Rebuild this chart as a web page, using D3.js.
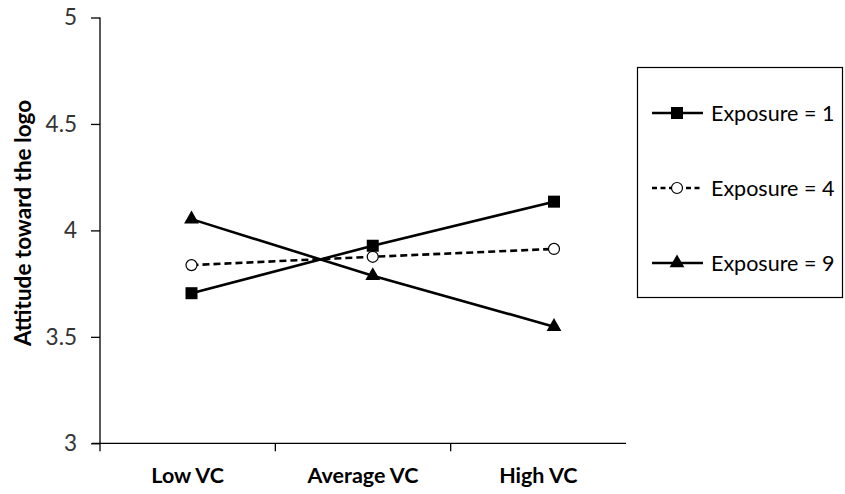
<!DOCTYPE html>
<html><head><meta charset="utf-8">
<script src="https://cdn.jsdelivr.net/npm/d3@7"></script>
<style>body{margin:0;background:#fff}svg{display:block}</style>
</head><body>
<svg id="c" width="845" height="494"></svg>
<script>
const categories = ["Low VC", "Average VC", "High VC"];
const yTicks = [3, 3.5, 4, 4.5, 5];
const seriesNames = ["Exposure = 1", "Exposure = 4", "Exposure = 9"];
const exposure1 = [3.705, 3.928, 4.135];
const exposure4 = [3.837, 3.876, 3.913];
const exposure9 = [4.053, 3.787, 3.548];
const yTitle = "Attitude toward the logo";

const series = [
  {name: seriesNames[0], values: exposure1, dash: null, marker: "square"},
  {name: seriesNames[1], values: exposure4, dash: "7,4", marker: "circle"},
  {name: seriesNames[2], values: exposure9, dash: null, marker: "triangle"}
];

const svg = d3.select("#c");
const font = "Lato, 'Open Sans', sans-serif";
const y = d3.scaleLinear().domain([3, 5]).range([443.3, 17.5]);
const xBand = d3.scaleBand().domain(categories).range([100, 626]);
const xPt = d3.scalePoint().domain(categories).range([191.5, 554]);

// Y axis
const yAxis = d3.axisLeft(y).tickValues(yTicks).tickSize(9).tickPadding(14).tickFormat(d3.format(""));
const gy = svg.append("g").attr("transform", "translate(100,0)").call(yAxis);
gy.select(".domain").attr("stroke", "#000").attr("stroke-width", 1.3).attr("d", "M0," + y(5) + "V" + y(3));
gy.selectAll(".tick line").attr("stroke", "#000").attr("stroke-width", 1.3);
gy.selectAll(".tick text").attr("font-family", font).attr("font-size", 22.5).attr("fill", "#333");

// X axis
const xAxis = d3.axisBottom(xBand).tickSize(0).tickPadding(24);
const gx = svg.append("g").attr("transform", "translate(0," + y(3) + ")").call(xAxis);
gx.select(".domain").attr("stroke", "#000").attr("stroke-width", 1.3).attr("d", "M92,0H626");
gx.selectAll(".tick text").attr("font-family", font).attr("font-size", 21.5).attr("font-weight", "bold").attr("fill", "#000").attr("dy", "0.71em");
// category boundary ticks
const bounds = categories.map(c => xBand(c));
gx.selectAll("line.bt").data(bounds).enter().append("line").attr("class", "bt")
  .attr("x1", d => d).attr("x2", d => d).attr("y1", 0).attr("y2", 8)
  .attr("stroke", "#000").attr("stroke-width", 1.3);

// Y title
svg.append("text").attr("transform", "translate(22," + 223 + ") rotate(-90)")
  .attr("text-anchor", "middle").attr("dominant-baseline", "central")
  .attr("font-family", font).attr("font-size", 22.5).attr("font-weight", "bold").text(yTitle);

function drawMarker(g, type, cx, cy) {
  if (type === "square") {
    g.append("rect").attr("x", cx - 6).attr("y", cy - 6).attr("width", 12).attr("height", 12).attr("fill", "#000");
  } else if (type === "circle") {
    g.append("circle").attr("cx", cx).attr("cy", cy).attr("r", 5.5).attr("fill", "#fff").attr("stroke", "#000").attr("stroke-width", 1.2);
  } else {
    g.append("path").attr("d", d3.symbol(d3.symbolTriangle, 95)()).attr("transform", "translate(" + cx + "," + (cy) + ")").attr("fill", "#000");
  }
}

const line = d3.line().x((d, i) => xPt(categories[i])).y(d => y(d));
const plot = svg.append("g");
series.forEach(s => {
  plot.append("path").attr("d", line(s.values)).attr("fill", "none").attr("stroke", "#000")
    .attr("stroke-width", 2.6).attr("stroke-dasharray", s.dash);
});
series.forEach(s => {
  s.values.forEach((v, i) => drawMarker(plot, s.marker, xPt(categories[i]), y(v)));
});

// Legend
const lg = svg.append("g");
lg.append("rect").attr("x", 637.5).attr("y", 67.5).attr("width", 205).attr("height", 230)
  .attr("fill", "#fff").attr("stroke", "#000").attr("stroke-width", 1.2);
const ly = d3.scalePoint().domain(seriesNames).range([113, 263]);
series.forEach(s => {
  const yy = ly(s.name);
  lg.append("line").attr("x1", 652).attr("x2", 703).attr("y1", yy).attr("y2", yy)
    .attr("stroke", "#000").attr("stroke-width", 2.6).attr("stroke-dasharray", s.dash ? "5,3.5" : null);
  drawMarker(lg, s.marker, 677, yy);
  lg.append("text").attr("x", 711).attr("y", yy).attr("dominant-baseline", "central")
    .attr("font-family", font).attr("font-size", 21.5).attr("fill", "#000").text(s.name);
});
</script>
</body></html>
